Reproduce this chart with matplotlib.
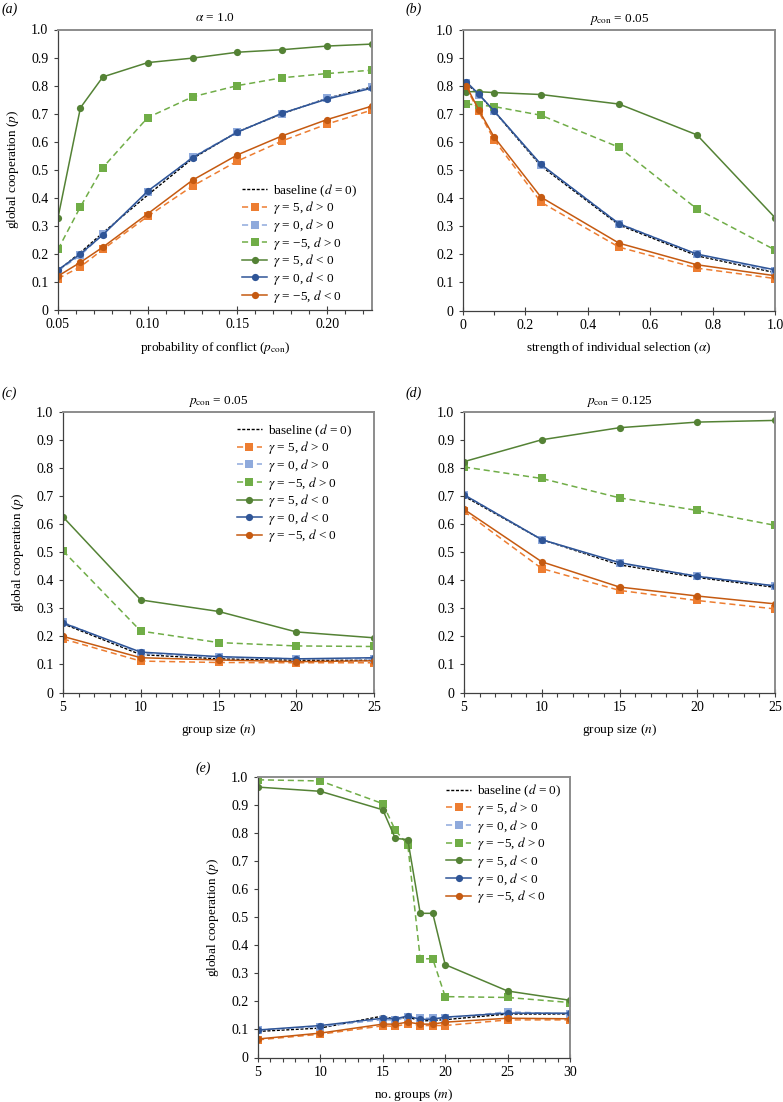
import matplotlib
matplotlib.use("Agg")
import matplotlib.pyplot as plt
from matplotlib.ticker import MultipleLocator, FixedLocator

plt.rcParams['font.family'] = ['Liberation Serif', 'DejaVu Serif']
plt.rcParams['mathtext.fontset'] = 'stix'
plt.rcParams['font.size'] = 9.5

# ---------------- data ----------------
# panel a: x = probability of conflict, alpha = 1.0
a_x = [0.05, 0.0625, 0.075, 0.1, 0.125, 0.15, 0.175, 0.2, 0.225]
a_base = [0.14, 0.205, 0.275, 0.41, 0.54, 0.635, 0.70, 0.755, 0.795]
a_g5_dp = [0.112, 0.154, 0.216, 0.334, 0.442, 0.531, 0.603, 0.663, 0.713]
a_g0_dp = [0.14, 0.195, 0.27, 0.42, 0.545, 0.635, 0.70, 0.755, 0.795]
a_gm5_dp = [0.216, 0.368, 0.508, 0.686, 0.760, 0.800, 0.828, 0.843, 0.855]
a_g5_dn = [0.329, 0.721, 0.831, 0.882, 0.898, 0.919, 0.928, 0.941, 0.948]
a_g0_dn = [0.143, 0.200, 0.268, 0.424, 0.543, 0.634, 0.702, 0.752, 0.791]
a_gm5_dn = [0.121, 0.170, 0.224, 0.343, 0.463, 0.553, 0.621, 0.679, 0.727]

# panel b: x = strength of individual selection, p_con = 0.05
b_x = [0.01, 0.05, 0.1, 0.25, 0.5, 0.75, 1.0]
b_base = [0.81, 0.77, 0.71, 0.515, 0.305, 0.195, 0.135]
b_g5_dp = [0.796, 0.71, 0.608, 0.386, 0.226, 0.151, 0.114]
b_g0_dp = [0.81, 0.77, 0.71, 0.52, 0.31, 0.20, 0.14]
b_gm5_dp = [0.736, 0.733, 0.727, 0.696, 0.582, 0.362, 0.216]
b_g5_dn = [0.780, 0.780, 0.777, 0.770, 0.736, 0.626, 0.331]
b_g0_dn = [0.816, 0.772, 0.711, 0.521, 0.309, 0.201, 0.145]
b_gm5_dn = [0.802, 0.716, 0.618, 0.404, 0.240, 0.163, 0.124]

# panel c: x = group size, p_con = 0.05
c_x = [5, 10, 15, 20, 25]
c_base = [0.245, 0.135, 0.12, 0.115, 0.115]
c_g5_dp = [0.191, 0.112, 0.107, 0.106, 0.106]
c_g0_dp = [0.25, 0.14, 0.125, 0.12, 0.12]
c_gm5_dp = [0.505, 0.219, 0.178, 0.166, 0.164]
c_g5_dn = [0.626, 0.330, 0.289, 0.216, 0.195]
c_g0_dn = [0.248, 0.144, 0.128, 0.120, 0.124]
c_gm5_dn = [0.200, 0.124, 0.116, 0.110, 0.113]

# panel d: x = group size, p_con = 0.125
d_x = [5, 10, 15, 20, 25]
d_base = [0.70, 0.545, 0.455, 0.41, 0.375]
d_g5_dp = [0.646, 0.442, 0.364, 0.328, 0.298]
d_g0_dp = [0.705, 0.545, 0.46, 0.415, 0.38]
d_gm5_dp = [0.804, 0.763, 0.694, 0.649, 0.596]
d_g5_dn = [0.823, 0.901, 0.944, 0.964, 0.970]
d_g0_dn = [0.705, 0.545, 0.463, 0.414, 0.380]
d_gm5_dn = [0.653, 0.466, 0.376, 0.344, 0.316]

# panel e: x = number of groups
e_x = [5, 10, 15, 16, 17, 18, 19, 20, 25, 30]
e_base = [0.093, 0.105, 0.148, 0.135, 0.145, 0.13, 0.132, 0.135, 0.155, 0.155]
e_g5_dp = [0.063, 0.083, 0.113, 0.111, 0.12, 0.114, 0.114, 0.114, 0.134, 0.134]
e_g0_dp = [0.098, 0.11, 0.135, 0.133, 0.145, 0.14, 0.14, 0.14, 0.163, 0.155]
e_gm5_dp = [0.990, 0.986, 0.905, 0.810, 0.759, 0.352, 0.352, 0.217, 0.214, 0.196]
e_g5_dn = [0.964, 0.949, 0.883, 0.781, 0.777, 0.514, 0.514, 0.331, 0.237, 0.204]
e_g0_dn = [0.098, 0.114, 0.140, 0.138, 0.148, 0.136, 0.136, 0.144, 0.158, 0.158]
e_gm5_dn = [0.066, 0.087, 0.119, 0.119, 0.126, 0.119, 0.119, 0.126, 0.140, 0.138]

labels = ['baseline ($d$ = 0)',
          '$\\gamma$ = 5, $d$ > 0',
          '$\\gamma$ = 0, $d$ > 0',
          '$\\gamma$ = \u22125, $d$ > 0',
          '$\\gamma$ = 5, $d$ < 0',
          '$\\gamma$ = 0, $d$ < 0',
          '$\\gamma$ = \u22125, $d$ < 0']

# ---------------- styles ----------------
styles = [
    dict(color='black', ls=(0, (2.2, 1.2)), lw=1.0, marker=None),
    dict(color='#ED7D31', ls=(0, (4, 2.5)), lw=1.1, marker='s', ms=5.4),
    dict(color='#8FAADC', ls=(0, (4, 2.5)), lw=1.1, marker='s', ms=5.4),
    dict(color='#70AD47', ls=(0, (4, 2.5)), lw=1.1, marker='s', ms=5.4),
    dict(color='#548235', ls='-', lw=1.1, marker='o', ms=5.2),
    dict(color='#2F5597', ls='-', lw=1.1, marker='o', ms=5.2),
    dict(color='#C55A11', ls='-', lw=1.1, marker='o', ms=5.2),
]

fig = plt.figure(figsize=(7.83, 11.02), dpi=100)

def make_ax(rect, x, series, xlim, major, minor, fmt, title, xlabel, ylabel, letter, letter_xy, legend_anchor=None):
    ax = fig.add_axes(rect)
    for s, y, lab in zip(styles, series, labels):
        kw = dict(color=s['color'], linestyle=s['ls'], linewidth=s['lw'], label=lab)
        if s['marker']:
            kw.update(marker=s['marker'], markersize=s['ms'], markeredgewidth=0)
        ax.plot(x, y, **kw)
    ax.set_xlim(*xlim)
    ax.set_ylim(0, 1.0)
    ax.xaxis.set_major_locator(FixedLocator(major))
    ax.xaxis.set_minor_locator(MultipleLocator(minor))
    ax.set_xticklabels([fmt(v) for v in major])
    ax.set_yticks([i / 10 for i in range(11)])
    ax.set_yticklabels(['0'] + ['%.1f' % (i / 10) for i in range(1, 11)])
    ax.tick_params(axis='x', which='major', direction='inout', length=6, width=0.8, color='#404040', labelsize=10, pad=3)
    ax.tick_params(axis='x', which='minor', direction='out', length=3, width=0.8, color='#404040')
    ax.tick_params(axis='y', which='major', direction='out', length=3, width=0.8, color='#404040', labelsize=10, pad=4)
    for sp in ['left', 'bottom']:
        ax.spines[sp].set_color('#404040')
        ax.spines[sp].set_linewidth(0.9)
    for sp in ['top', 'right']:
        ax.spines[sp].set_color('#8c8c8c')
        ax.spines[sp].set_linewidth(1.4)
    ax.set_title(title, fontsize=9.5, pad=6)
    ax.set_xlabel(xlabel, fontsize=9.5, labelpad=6)
    if ylabel:
        ax.set_ylabel(ylabel, fontsize=9.5, labelpad=7)
    fig.text(letter_xy[0], letter_xy[1], letter, fontsize=10, style='italic', ha='left', va='center')
    if legend_anchor is not None:
        ax.legend(frameon=False, fontsize=9.5, handlelength=1.9, labelspacing=0.05,
                  handletextpad=0.45, borderaxespad=0.0, borderpad=0.0,
                  loc='upper left', bbox_to_anchor=legend_anchor)
    return ax

W, H = 783.0, 1102.0

def rect(l, r, t, b):
    return [l / W, 1 - b / H, (r - l) / W, (b - t) / H]

f2 = lambda v: '%.2f' % v
fb = lambda v: '0' if v == 0 else '%.1f' % v
fi = lambda v: '%d' % v

make_ax(rect(58, 372, 29.5, 310), a_x,
        [a_base, a_g5_dp, a_g0_dp, a_gm5_dp, a_g5_dn, a_g0_dn, a_gm5_dn],
        (0.05, 0.225), [0.05, 0.10, 0.15, 0.20], 0.01, f2,
        r'$\alpha$ = 1.0', r'probability of conflict ($p_{\mathrm{con}}$)',
        r'global cooperation ($p$)', '(a)', (2 / W, 1 - 9 / H),
        legend_anchor=(0.586, 0.455))

make_ax(rect(463, 775, 30, 310.5), b_x,
        [b_base, b_g5_dp, b_g0_dp, b_gm5_dp, b_g5_dn, b_g0_dn, b_gm5_dn],
        (0, 1.0), [0, 0.2, 0.4, 0.6, 0.8, 1.0], 0.1, fb,
        r'$p_{\mathrm{con}}$ = 0.05', r'strength of individual selection ($\alpha$)',
        None, '(b)', (406 / W, 1 - 9 / H))

make_ax(rect(63, 374, 412, 692.5), c_x,
        [c_base, c_g5_dp, c_g0_dp, c_gm5_dp, c_g5_dn, c_g0_dn, c_gm5_dn],
        (5, 25), [5, 10, 15, 20, 25], 1, fi,
        r'$p_{\mathrm{con}}$ = 0.05', r'group size ($n$)',
        r'global cooperation ($p$)', '(c)', (2 / W, 1 - 393 / H),
        legend_anchor=(0.559, 0.964))

make_ax(rect(464, 775, 412, 692.5), d_x,
        [d_base, d_g5_dp, d_g0_dp, d_gm5_dp, d_g5_dn, d_g0_dn, d_gm5_dn],
        (5, 25), [5, 10, 15, 20, 25], 1, fi,
        r'$p_{\mathrm{con}}$ = 0.125', r'group size ($n$)',
        None, '(d)', (406 / W, 1 - 393 / H))

make_ax(rect(258, 570, 777, 1057.5), e_x,
        [e_base, e_g5_dp, e_g0_dp, e_gm5_dp, e_g5_dn, e_g0_dn, e_gm5_dn],
        (5, 30), [5, 10, 15, 20, 25, 30], 1, fi,
        '', r'no. groups ($m$)',
        r'global cooperation ($p$)', '(e)', (196 / W, 1 - 768 / H),
        legend_anchor=(0.603, 0.979))

fig.savefig('out.png', dpi=100)
